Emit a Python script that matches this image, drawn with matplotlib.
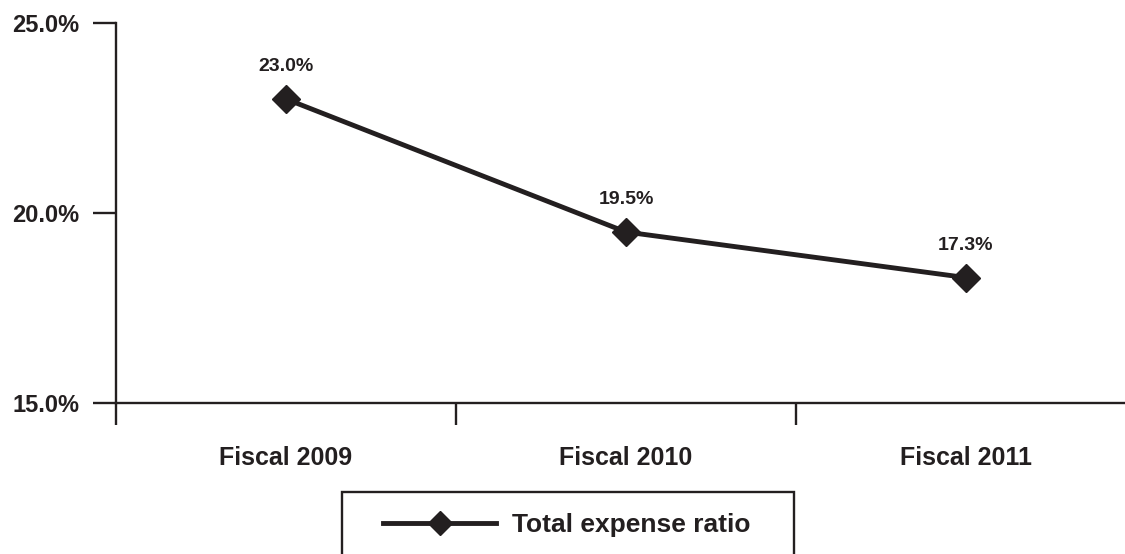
import matplotlib
matplotlib.use("Agg")
from matplotlib import pyplot as plt
from matplotlib.patches import Rectangle

# data
years = ["Fiscal 2009", "Fiscal 2010", "Fiscal 2011"]
ratio = [23.0, 19.5, 18.3]            # where the points are drawn
point_labels = ["23.0%", "19.5%", "17.3%"]   # text printed above them
yticks = [15.0, 20.0, 25.0]
series_name = "Total expense ratio"

ink = "#231f20"
plt.rcParams['font.family'] = ['Liberation Sans', 'DejaVu Sans']
plt.rcParams['font.weight'] = 'bold'

W, H = 1125, 554
fig = plt.figure(figsize=(W/100, H/100), dpi=100)
ax = fig.add_axes([116/W, 1-403/H, 1020/W, 380/H])

x = list(range(len(years)))
line, = ax.plot(x, ratio, color=ink, lw=3.5, marker='D', ms=14,
                label=series_name, clip_on=False)
for xi, yi, s in zip(x, ratio, point_labels):
    ax.annotate(s, (xi, yi), xytext=(0, 20), textcoords='offset points',
                ha='center', va='baseline', fontsize=14,
                fontweight='bold', color=ink)

ax.set_xlim(-0.5, 2.5)
ax.set_ylim(15, 25)
ax.set_yticks(yticks)
ax.set_yticklabels([f"{v:.1f}%" for v in yticks])

# ticks between categories, labels at category centres
ax.set_xticks([-0.5, 0.5, 1.5, 2.5])
ax.set_xticklabels([])
ax.set_xticks(x, minor=True)
ax.set_xticklabels(years, minor=True)

ax.tick_params(axis='y', length=16.5, width=1.7, pad=10, labelsize=17,
               color=ink, labelcolor=ink, direction='out')
ax.tick_params(axis='x', which='major', length=16, width=1.7,
               direction='out', color=ink)
ax.tick_params(axis='x', which='minor', length=0, pad=31, labelsize=18,
               labelcolor=ink)

for side in ['top', 'right']:
    ax.spines[side].set_visible(False)
for side in ['left', 'bottom']:
    ax.spines[side].set_linewidth(1.7)
    ax.spines[side].set_color(ink)

# legend, boxed, running off the bottom edge
fs = 19
fig.legend(handles=[line], loc='center left',
           bbox_to_anchor=(383/W, 1-525/H), frameon=False,
           borderpad=0, borderaxespad=0, handlelength=113/(fs*100/72),
           handletextpad=0.6, fontsize=fs, markerscale=0.85,
           numpoints=1, labelcolor=ink)
fig.add_artist(Rectangle((342/W, 1-562/H), (794-342)/W, (562-492)/H,
                         transform=fig.transFigure, fill=False, lw=1.7,
                         ec=ink, clip_on=False))

fig.savefig("out.png", dpi=100)
